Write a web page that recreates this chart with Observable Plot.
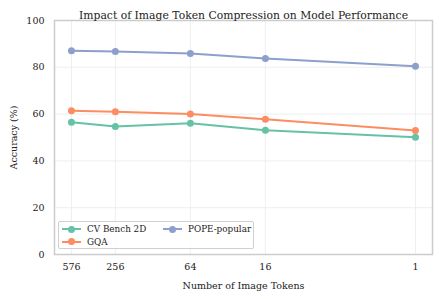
<!DOCTYPE html>
<html><head><meta charset="utf-8">
<script src="https://cdn.jsdelivr.net/npm/d3@7"></script>
<script src="https://cdn.jsdelivr.net/npm/@observablehq/plot@0.6"></script>
<style>
body{margin:0;background:#fff;}
#wrap{position:relative;width:439px;height:299px;font-family:"DejaVu Serif",serif;}
#legend{position:absolute;left:58px;top:221px;width:196px;height:28px;border:1px solid #d0d0d0;border-radius:2px;background:rgba(255,255,255,0.85);font-size:8.8px;color:#222;box-sizing:border-box;}
.li{position:absolute;display:flex;align-items:center;white-space:nowrap;}
.sw{position:relative;width:19px;height:8px;margin-right:6px;}
.sw .ln{position:absolute;left:0;top:3px;width:19px;height:2px;}
.sw .dt{position:absolute;left:6px;top:0.5px;width:7px;height:7px;border-radius:50%;}
</style></head>
<body><div id="wrap"></div>
<script>
const tokens = [576, 256, 64, 16, 1];
const seriesNames = ["CV Bench 2D", "GQA", "POPE-popular"];
const cvBench = [56.5, 54.7, 56.1, 53.1, 50.1];
const gqa = [61.4, 61.0, 60.0, 57.8, 53.0];
const pope = [87.1, 86.8, 85.9, 83.8, 80.4];
const colors = ["#66c2a5", "#fc8d62", "#8da0cb"];
const yTicks = [0, 20, 40, 60, 80, 100];

const values = [cvBench, gqa, pope];
const data = [];
seriesNames.forEach((s, i) => tokens.forEach((t, j) => data.push({series: s, tokens: t, acc: values[i][j]})));

const chart = Plot.plot({
  width: 439, height: 299,
  marginTop: 20, marginBottom: 45, marginLeft: 54, marginRight: 7,
  style: {fontFamily: "DejaVu Serif, serif", fontSize: "9.5px", color: "#222", background: "#fff"},
  x: {type: "log", base: 2, domain: [788, 0.73]},
  y: {domain: [0, 100]},
  color: {domain: seriesNames, range: colors},
  marks: [
    Plot.gridX(tokens, {stroke: "#ebebeb", strokeOpacity: 1, strokeWidth: 0.8}),
    Plot.gridY(yTicks, {stroke: "#ebebeb", strokeOpacity: 1, strokeWidth: 0.8}),
    Plot.frame({stroke: "#cccccc", strokeWidth: 1.5}),
    Plot.text(tokens, {x: d => d, frameAnchor: "bottom", lineAnchor: "top", dy: 9, fontSize: 9.5, fill: "#222", text: d => String(d)}),
    Plot.axisX({ticks: [], tickSize: 0, label: "Number of Image Tokens", labelAnchor: "center", labelArrow: "none", labelOffset: 34}),
    Plot.axisY(yTicks, {tickSize: 0, tickPadding: 10, fontSize: 9.5, tickFormat: d => String(d), label: "Accuracy (%)", labelAnchor: "center", labelArrow: "none", labelOffset: 44}),
    Plot.line(data, {x: "tokens", y: "acc", stroke: "series", strokeWidth: 2}),
    Plot.dot(data, {x: "tokens", y: "acc", fill: "series", r: 3.5}),
    Plot.text(["Impact of Image Token Compression on Model Performance"], {frameAnchor: "top", dy: -9, fontSize: 10.8, fill: "#222"})
  ]
});
const wrap = document.getElementById("wrap");
wrap.appendChild(chart);

const leg = document.createElement("div");
leg.id = "legend";
const pos = [[3, 2], [3, 14.5], [104, 2]];
seriesNames.forEach((s, i) => {
  const it = document.createElement("div");
  it.className = "li";
  it.style.left = pos[i][0] + "px";
  it.style.top = pos[i][1] + "px";
  it.innerHTML = `<span class="sw"><span class="ln" style="background:${colors[i]}"></span><span class="dt" style="background:${colors[i]}"></span></span>${s}`;
  leg.appendChild(it);
});
wrap.appendChild(leg);
</script></body></html>
